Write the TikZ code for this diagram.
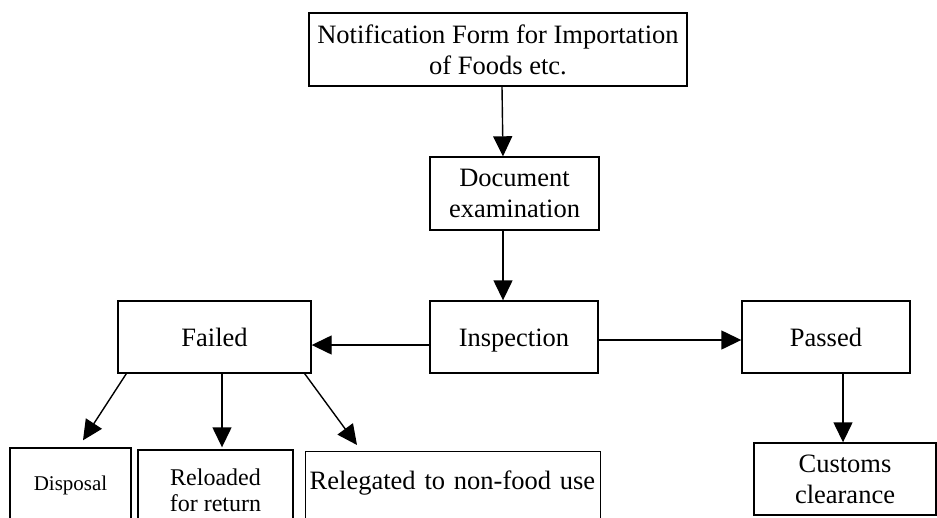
\documentclass[tikz,border=0pt]{standalone}
\usepackage{fontspec}
\setmainfont{Liberation Serif}
\usetikzlibrary{arrows.meta}

\begin{document}
\begin{tikzpicture}[x=1pt,y=-1pt]

    \path[use as bounding box,clip] (0,0) rectangle (937,517);
    \begin{scope}[every node/.style={rectangle,draw,line width=1.4pt,inner sep=0pt,align=center,font=\fontsize{26.5}{31}\selectfont}]
        \node (notif) [minimum width=378pt,minimum height=73pt] at (498,49.5) {Notification Form for Importation\\of Foods etc.};
        \node (doc) [minimum width=169pt,minimum height=73pt] at (514.5,193.5) {Document\\examination};
        \node (insp) [minimum width=168pt,minimum height=72pt,text height=19pt,text depth=0pt] at (514,337) {Inspection};
        \node (failed) [minimum width=193pt,minimum height=72pt,text height=19pt,text depth=0pt] at (214.5,337) {Failed};
        \node (passed) [minimum width=168pt,minimum height=72pt,text height=19pt,text depth=0pt] at (826,337) {Passed};
        \node (customs) [minimum width=182pt,minimum height=72pt] at (845,479) {Customs\\clearance};
        \node (disposal) [minimum width=121pt,minimum height=74pt,font=\fontsize{21}{25}\selectfont] at (70.5,485) {Disposal};
        \node (reload) [minimum width=155pt,minimum height=80pt,font=\fontsize{24}{26}\selectfont] at (215.5,490) {Reloaded\\for return};
        \node (releg) [anchor=north west,minimum width=295pt,minimum height=76pt,text width=287pt,align=left,text height=18pt,text depth=18pt] at (305,451) {Relegated to non-food use};
    \end{scope}
    \begin{scope}[every path/.style={-{Triangle[length=20pt,width=19pt]},line width=1.4pt}]
        \path ([xshift=4pt]notif.south) edge ([xshift=-11.5pt]doc.north);
        \path ([xshift=-11.5pt]doc.south) edge ([xshift=-11pt]insp.north);
        \path ([yshift=-8pt]insp.west) edge ([yshift=-8pt]failed.east);
        \path ([yshift=-3pt]insp.east) edge ([yshift=-3pt]passed.west);
        \path ([xshift=17pt]passed.south) edge ([xshift=-2pt]customs.north);
        \path ([xshift=9pt]failed.south west) edge ([xshift=12.5pt,yshift=7pt]disposal.north);
        \path ([xshift=7.5pt]failed.south) edge ([xshift=6.5pt,yshift=2pt]reload.north);
        \path ([xshift=-7pt]failed.south east) edge ([xshift=52pt,yshift=6pt]releg.north west);
    \end{scope}
    \end{tikzpicture}
\end{document}
